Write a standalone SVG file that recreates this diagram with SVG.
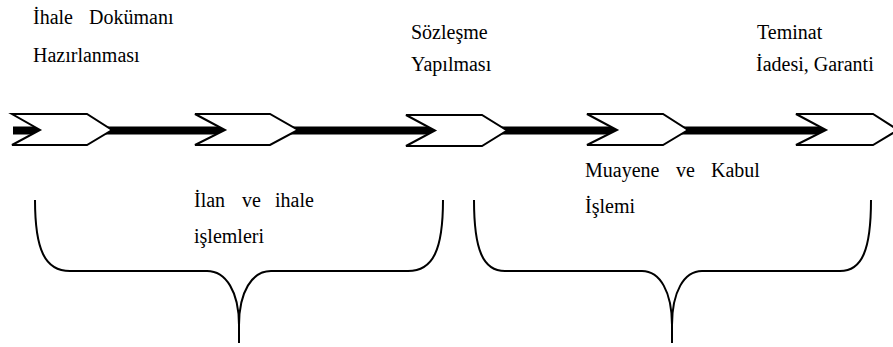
<svg xmlns="http://www.w3.org/2000/svg" width="893" height="347" viewBox="0 0 893 347">
  <style>
    text { font-family: "Liberation Serif", Tinos, "Times New Roman", "DejaVu Serif", serif; font-size: 20px; fill: #000; }
    .chev { fill: #fff; stroke: #000; stroke-width: 2; stroke-linejoin: miter; }
    .brace { fill: none; stroke: #000; stroke-width: 2; }
  </style>
  <rect width="893" height="347" fill="#fff"/>

  <!-- timeline bar -->
  <g id="connectors">
    <rect x="13" y="126.5" width="814" height="8" fill="#000"/>
  </g>

  <!-- chevron steps -->
  <g id="step1"><polygon class="chev" points="12,114 87,114 112,130 87,145 12,145 40,130"/></g>
  <g id="step2"><polygon class="chev" points="195,114 270,114 298,130 270,145 195,145 225,130"/></g>
  <g id="step3"><polygon class="chev" points="406,115 482,115 507,130.5 482,146 406,146 435,130.5"/></g>
  <g id="step4"><polygon class="chev" points="587,114 663,114 688,130 663,145 587,145 617,130"/></g>
  <g id="step5"><polygon class="chev" points="796,114 873,114 898,130 873,145 796,145 826,130"/></g>

  <!-- labels above -->
  <g id="label-ihale-dokumani">
    <text x="33" y="24">İhale</text>
    <text x="89" y="24">Dokümanı</text>
    <text x="33" y="62">Hazırlanması</text>
  </g>
  <g id="label-sozlesme">
    <text x="411" y="39">Sözleşme</text>
    <text x="411" y="71">Yapılması</text>
  </g>
  <g id="label-teminat">
    <text x="757" y="39">Teminat</text>
    <text x="756" y="71">İadesi, Garanti</text>
  </g>

  <!-- brace groups below -->
  <g id="brace-ilan">
    <path class="brace" d="M35,200 C35,250 45,271 70,271 L207,271 C226,271 239,292 239,325 C239,292 252,271 271,271 L408,271 C433,271 443,250 443,200 M239,325 L239,343"/>
    <text x="194" y="207">İlan</text>
    <text x="242" y="207">ve</text>
    <text x="275" y="207">ihale</text>
    <text x="194" y="243">işlemleri</text>
  </g>
  <g id="brace-muayene">
    <path class="brace" d="M474,200 C474,250 483,271 505,271 L642,271 C660,271 672,292 672,325 C672,292 684,271 702,271 L840,271 C862,271 871,250 871,200 M672,325 L672,343"/>
    <text x="585" y="177">Muayene</text>
    <text x="676" y="177">ve</text>
    <text x="711" y="177">Kabul</text>
    <text x="585" y="213">İşlemi</text>
  </g>
</svg>
